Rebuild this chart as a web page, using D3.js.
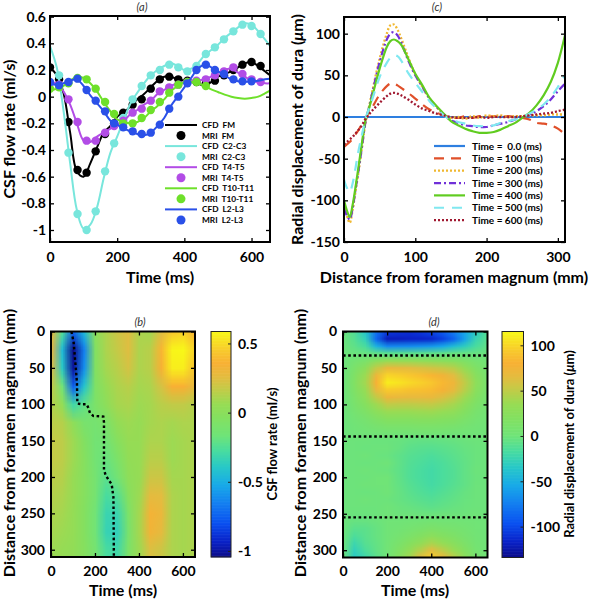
<!DOCTYPE html>
<html><head><meta charset="utf-8">
<script src="https://cdn.jsdelivr.net/npm/d3@7"></script>
<style>
body{margin:0;background:#fff;}
svg text{font-family:Lato,"Open Sans",sans-serif;}
</style></head><body>
<svg id="chart" width="590" height="600" xmlns="http://www.w3.org/2000/svg"></svg>
<script>
// ---------------- DATA: panel (a) ----------------
const timeCFD = [0,20,40,60,80,100,120,140,160,180,200,220,240,260,280,300,320,340,360,380,400,420,440,460,480,500,520,540,560,580,600,620,640,655];
const cfdFM  = [0.22,0.16,0.03,-0.27,-0.56,-0.60,-0.50,-0.38,-0.27,-0.22,-0.15,-0.12,-0.07,-0.02,0.02,0.07,0.12,0.15,0.15,0.13,0.12,0.12,0.10,0.08,0.11,0.15,0.17,0.19,0.22,0.25,0.26,0.23,0.19,0.16];
const cfdC2  = [0.38,0.22,-0.10,-0.50,-0.85,-0.99,-0.96,-0.83,-0.61,-0.42,-0.30,-0.17,-0.05,0.03,0.10,0.16,0.20,0.23,0.25,0.23,0.20,0.21,0.25,0.31,0.35,0.39,0.44,0.48,0.52,0.55,0.54,0.49,0.43,0.38];
const cfdT4  = [0.10,0.10,0.04,-0.06,-0.20,-0.33,-0.34,-0.30,-0.27,-0.24,-0.21,-0.18,-0.13,-0.10,-0.06,-0.03,0.02,0.05,0.08,0.10,0.11,0.12,0.12,0.13,0.15,0.18,0.20,0.21,0.18,0.15,0.12,0.11,0.10,0.10];
const cfdT10 = [0.05,0.06,0.08,0.12,0.15,0.14,0.10,0.04,-0.04,-0.11,-0.17,-0.19,-0.20,-0.19,-0.16,-0.11,-0.07,-0.02,0.04,0.08,0.11,0.11,0.10,0.08,0.055,0.035,0.015,0.0,-0.01,-0.015,-0.01,0.0,0.025,0.045];
const cfdL2  = [0.10,0.09,0.10,0.12,0.13,0.08,0.01,-0.05,-0.11,-0.18,-0.21,-0.24,-0.26,-0.28,-0.29,-0.27,-0.22,-0.16,-0.07,0.00,0.07,0.14,0.21,0.24,0.22,0.19,0.16,0.13,0.115,0.11,0.115,0.12,0.13,0.135];
const timeMRI = [0,27,55,82,109,136,164,191,218,246,273,300,327,355,382,409,436,464,491,518,546,573,600,627,655];
const mriFM  = [0.22,0.13,-0.19,-0.55,-0.57,-0.41,-0.28,-0.20,-0.12,-0.06,-0.02,0.06,0.13,0.15,0.13,0.12,0.11,0.10,0.12,0.16,0.20,0.24,0.26,0.23,null];
const mriC2  = [null,0.16,-0.42,-0.88,-1.00,-0.86,-0.56,-0.35,-0.16,-0.02,0.08,0.16,0.20,0.24,0.22,0.19,0.23,0.32,0.37,0.43,0.49,0.54,0.53,0.47,null];
const mriT4  = [0.10,0.09,-0.02,-0.19,-0.33,-0.33,-0.27,-0.22,-0.18,-0.12,-0.09,-0.03,0.04,0.07,0.09,0.11,0.12,0.13,0.16,0.19,0.22,0.17,0.13,0.11,null];
const mriT10 = [0.06,0.07,0.10,0.14,0.13,0.06,-0.04,-0.13,-0.20,-0.20,-0.16,-0.10,-0.04,0.03,0.09,0.11,0.11,0.08,null,null,null,null,null,null,null];
const mriL2  = [0.11,0.085,0.11,0.135,0.05,-0.03,-0.11,-0.20,-0.23,-0.26,-0.28,-0.27,-0.21,-0.09,0.00,0.10,0.20,0.24,0.20,0.17,0.13,0.115,0.115,null,null];
const regions = ["FM","C2-C3","T4-T5","T10-T11","L2-L3"];
const flowTicks = [-1,-0.8,-0.6,-0.4,-0.2,0,0.2,0.4,0.6];
const flowTickLabels = ["-1","-0.8","-0.6","-0.4","-0.2","0","0.2","0.4","0.6"];
const timeTicks = [0,200,400,600];
const timeTickLabels = ["0","200","400","600"];

// ---------------- DATA: panel (c) ----------------
const distPos = [0,4,8,12,16,20,25,30,35,40,50,60,65,70,75,80,90,100,110,120,130,140,150,160,170,180,190,200,210,220,230,240,250,260,270,280,290,300,310];
const disp000 = [0,0,0,0,0,0,0,0,0,0,0,0,0,0,0,0,0,0,0,0,0,0,0,0,0,0,0,0,0,0,0,0,0,0,0,0,0,0,0];
const disp100 = [-36,-33,-30,-26,-21,-16,-9,-2,5,12,27,37,40,40,38,35,29,22,15,9,5,2,0,-1,1,-1,1,0,1,-1,1,0,-1,-3,-7,-8,-10,-14,-21];
const disp200 = [-105,-118,-127,-112,-90,-68,-38,-8,12,32,70,100,110,111,105,95,72,51,36,22,12,3,-1,0,-2,1,-1,2,1,2,0,1,1,2,2,2,3,3,3];
const disp300 = [-110,-118,-123,-110,-88,-66,-37,-7,11,30,66,93,100,102,98,90,68,50,36,22,12,3,-4,-7,-10,-11,-12,-12,-10,-8,-6,-3,0,3,7,13,21,31,40];
const disp400 = [-100,-112,-120,-106,-85,-62,-32,-4,10,26,58,84,91,93,91,87,70,52,38,23,13,4,-5,-10,-14,-17,-19,-19,-18,-15,-11,-7,-1,5,14,26,42,65,98];
const disp500 = [-75,-85,-90,-80,-62,-42,-22,-3,10,22,48,65,71,74,73,68,53,41,30,19,10,2,-3,-6,-8,-10,-11,-11,-10,-7,-5,-3,0,4,9,15,24,36,50];
const disp600 = [-33,-30,-27,-24,-20,-16,-10,-3,3,8,17,25,28,29,28,26,21,15,10,7,4,2,0,-1,-1,-1,0,-1,0,0,0,0,1,2,3,4,5,7,9];
const dispLabels = ["Time =  0.0 (ms)","Time = 100 (ms)","Time = 200 (ms)","Time = 300 (ms)","Time = 400 (ms)","Time = 500 (ms)","Time = 600 (ms)"];
const dispTicks = [-150,-100,-50,0,50,100];
const dispTickLabels = ["-150","-100","-50","0","50","100"];
const distTicks = [0,100,200,300];
const distTickLabels = ["0","100","200","300"];

// ---------------- DATA: panel (b) ----------------
const heatTimes = [0,50,100,150,200,250,300,350,400,450,500,550,600,650];
const flowPos = [0,25,50,75,100,125,150,175,200,225,250,275,300];
const flowGrid = [
  [0.30,-0.25,-0.75,-0.45, 0.00, 0.12, 0.20, 0.25, 0.12, 0.10, 0.25, 0.45, 0.48, 0.38],
  [0.32,-0.45,-1.04,-0.65,-0.04, 0.12, 0.18, 0.25, 0.12, 0.15, 0.38, 0.58, 0.59, 0.48],
  [0.26,-0.38,-1.00,-0.60,-0.04, 0.10, 0.15, 0.22, 0.12, 0.15, 0.35, 0.56, 0.56, 0.42],
  [0.18,-0.15,-0.75,-0.40,-0.06, 0.06, 0.12, 0.15, 0.10, 0.12, 0.22, 0.36, 0.36, 0.28],
  [0.14, 0.05,-0.30,-0.20,-0.08, 0.02, 0.10, 0.12, 0.08, 0.10, 0.15, 0.17, 0.17, 0.14],
  [0.16, 0.14, 0.02,-0.10,-0.12,-0.08, 0.04, 0.08, 0.06, 0.10, 0.12, 0.10, 0.12, 0.12],
  [0.18, 0.16, 0.08,-0.04,-0.14,-0.14,-0.02, 0.06, 0.06, 0.12, 0.12, 0.08, 0.10, 0.12],
  [0.18, 0.16, 0.08,-0.02,-0.14,-0.18,-0.08, 0.04, 0.06, 0.15, 0.15, 0.08, 0.10, 0.12],
  [0.16, 0.14, 0.06,-0.02,-0.12,-0.22,-0.14, 0.02, 0.06, 0.20, 0.20, 0.10, 0.10, 0.12],
  [0.14, 0.12, 0.06,-0.02,-0.12,-0.27,-0.24,-0.02, 0.08, 0.27, 0.26, 0.12, 0.10, 0.12],
  [0.12, 0.10, 0.05,-0.03,-0.15,-0.32,-0.32,-0.08, 0.10, 0.34, 0.30, 0.12, 0.10, 0.12],
  [0.10, 0.08, 0.05,-0.03,-0.15,-0.33,-0.35,-0.10, 0.10, 0.33, 0.27, 0.12, 0.10, 0.12],
  [0.08, 0.06, 0.04,-0.02,-0.12,-0.27,-0.30,-0.08, 0.08, 0.24, 0.20, 0.12, 0.10, 0.12]
];
const peakTime = [93,103,108,114,118,119,120,140,162,170,177,192,238,241,241,248,262,276,284,286];
const peakPos  = [0,15,33,55,70,85,99,100,100,105,112,116,117,125,190,197,204,210,228,310];
const flowRange = [-1.04, 0.59];
const flowBarTicks = [-1,-0.5,0,0.5];
const flowBarLabels = ["-1","-0.5","0","0.5"];
const posTicks = [0,50,100,150,200,250,300];
const posTickLabels = ["0","50","100","150","200","250","300"];

// ---------------- DATA: panel (d) ----------------
const dispPos = [0,10,20,30,40,50,60,70,80,90,100,110,120,130,140,150,160,170,180,190,200,210,220,230,240,250,260,270,280,290,300,310];
const dispGrid = [
  [0,-12,-36,-80,-105,-108,-110,-106,-100,-90,-75,-55,-33,-12],
  [0,-10,-28,-85,-120,-119,-117,-116,-114,-103,-87,-58,-25,-9],
  [0,-6,-16,-48,-70,-69,-68,-65,-62,-55,-42,-30,-16,-6],
  [0,-1,-2,-5,-8,-8,-7,-7,-6,-5,-3,-3,-3,-1],
  [0,6,12,25,34,33,32,30,28,25,22,15,8,3],
  [0,12,27,52,70,68,66,62,58,54,48,33,17,6],
  [0,16,37,72,100,97,93,89,84,76,65,45,25,9],
  [0,18,40,80,111,107,102,98,93,85,74,52,29,11],
  [0,16,35,68,95,93,90,89,87,79,68,48,26,10],
  [0,13,29,52,72,70,68,69,70,62,53,38,21,8],
  [0,10,22,38,51,50,50,51,52,47,41,28,15,6],
  [0,7,15,26,36,36,36,37,38,34,30,20,10,4],
  [0,4,9,16,22,22,22,23,23,21,19,13,7,3],
  [0,2,5,9,12,12,12,13,13,12,10,7,4,2],
  [0,1,2,3,3,3,3,4,4,3,2,2,2,1],
  [0,0,0,-1,-1,-2,-4,-5,-5,-4,-3,-1,0,0],
  [0,0,-1,0,0,-3,-7,-9,-10,-8,-6,-3,-1,0],
  [0,0,1,-1,-2,-6,-10,-12,-14,-11,-8,-4,-1,0],
  [0,0,-1,0,1,-5,-11,-14,-17,-14,-10,-5,-1,0],
  [0,0,1,0,-1,-6,-12,-16,-19,-15,-11,-5,0,0],
  [0,0,0,1,2,-5,-12,-16,-19,-15,-11,-5,-1,0],
  [0,0,1,1,1,-4,-10,-14,-18,-14,-10,-5,0,0],
  [0,0,-1,0,2,-3,-8,-12,-15,-11,-7,-3,0,0],
  [0,0,1,0,0,-3,-6,-9,-11,-8,-5,-2,0,0],
  [0,0,0,0,1,-1,-3,-5,-7,-5,-3,-1,0,0],
  [0,-1,-1,0,1,0,0,-1,-1,0,0,0,1,0],
  [0,-3,-3,-1,2,2,3,4,5,4,4,3,2,1],
  [0,-8,-7,-3,2,4,7,10,14,11,9,6,3,1],
  [0,-14,-8,-3,2,7,13,19,26,20,15,9,4,1],
  [0,-22,-10,-4,3,11,21,31,42,33,24,14,5,2],
  [0,-28,-14,-5,3,16,31,47,65,50,36,20,7,2],
  [0,-32,-21,-8,3,20,40,68,98,72,50,28,9,3]
];
const interfacePos = [33,144,255];
const dispRange = [-133.5, 115.8];
const dispBarTicks = [-100,-50,0,50,100];
const dispBarLabels = ["-100","-50","0","50","100"];

// ---------------- STYLES ----------------
const regionColors = ["#000000","#78e6dc","#b24ce6","#6ee02a","#2a50e8"];
const dispColors = ["#2e7fe0","#e0502a","#f0b830","#7030d8","#60cc20","#80e8f0","#a01830"];
const dispDash = [null,"10,7","2,2","7,3,2,3",null,"10,8","2,2"];
const cmapStops  = [0,0.07,0.15,0.24,0.32,0.40,0.47,0.54,0.62,0.68,0.74,0.80,0.86,0.92,1];
const cmapColors = ["#0c0c88","#0a22c8","#0a50f0","#1480f0","#18aae8","#28c8c8","#48dca0","#70e478","#84e060","#98dc54","#c0cc48","#e4bc40","#f8b034","#f8cc2c","#f8f818"];

const FONT = 'Lato, "Open Sans", sans-serif';
const svg = d3.select('#chart');

function frame(g, x, y, w, h, xt, xl, yt, yl, xpad, ypad) {
  g.append('g').attr('transform', `translate(0,${h})`)
    .call(d3.axisBottom(x).tickValues(xt).tickFormat((d,i)=>xl[i]).tickSizeInner(-4).tickSizeOuter(0).tickPadding(xpad));
  g.append('g').call(d3.axisTop(x).tickValues(xt).tickFormat('').tickSizeInner(-4).tickSizeOuter(0));
  g.append('g').call(d3.axisLeft(y).tickValues(yt).tickFormat((d,i)=>yl[i]).tickSizeInner(-4).tickSizeOuter(0).tickPadding(ypad));
  g.append('g').attr('transform', `translate(${w},0)`)
    .call(d3.axisRight(y).tickValues(yt).tickFormat('').tickSizeInner(-4).tickSizeOuter(0));
  g.selectAll('.domain').remove();
  g.selectAll('.tick line').attr('stroke', '#000').attr('stroke-width', 1.3);
  g.selectAll('.tick text').attr('font-family', FONT).attr('font-weight', 'bold').attr('font-size', 14).attr('fill', '#000');
  g.append('rect').attr('width', w).attr('height', h).attr('fill', 'none').attr('stroke', '#000').attr('stroke-width', 2);
}
function label(txt, x, y, size, rot, opts) {
  const t = svg.append('text').attr('x', x).attr('y', y).attr('text-anchor', 'middle')
    .attr('font-family', FONT).attr('font-size', size).attr('font-weight', (opts && opts.normal) ? 'normal' : 'bold')
    .attr('fill', (opts && opts.fill) || '#000');
  if (rot) t.attr('transform', `rotate(-90,${x},${y})`);
  if (opts && opts.italic) t.attr('font-style', 'italic');
  if (Array.isArray(txt)) {
    txt.forEach(p => { const s = t.append('tspan').text(p.t); if (p.i) s.attr('font-style', 'italic'); });
  } else t.text(txt);
  return t;
}
function makeCmap(lo, hi) {
  return d3.scaleLinear().domain(cmapStops.map(s => lo + s * (hi - lo))).range(cmapColors)
    .interpolate(d3.interpolateRgb).clamp(true);
}
function drawHeat(g, times, pos, grid, x, y, color, w, h, id) {
  const nx = times.length, ny = pos.length;
  const cv = document.createElement('canvas'); cv.width = nx; cv.height = ny;
  const ctx = cv.getContext('2d'); const im = ctx.createImageData(nx, ny);
  grid.forEach((row, j) => row.forEach((v, i) => {
    const c = d3.rgb(color(v)); const k = 4 * (j * nx + i);
    im.data[k] = c.r; im.data[k+1] = c.g; im.data[k+2] = c.b; im.data[k+3] = 255;
  }));
  ctx.putImageData(im, 0, 0);
  const dx = (x(times[nx-1]) - x(times[0])) / (nx - 1);
  const dy = (y(pos[ny-1]) - y(pos[0])) / (ny - 1);
  g.append('clipPath').attr('id', id).append('rect').attr('width', w).attr('height', h);
  g.append('g').attr('clip-path', `url(#${id})`).append('image')
    .attr('href', cv.toDataURL())
    .attr('x', x(times[0]) - dx / 2).attr('y', y(pos[0]) - dy / 2)
    .attr('width', dx * nx).attr('height', dy * ny)
    .attr('preserveAspectRatio', 'none');
}
function colorbar(x0, y0, w, h, range, color, ticks, labels) {
  const g = svg.append('g').attr('transform', `translate(${x0},${y0})`);
  const yb = d3.scaleLinear().domain(range).range([h, 0]);
  const n = 150, step = (range[1] - range[0]) / n;
  d3.range(n).forEach(k => {
    const v0 = range[0] + k * step;
    g.append('rect').attr('x', 0).attr('width', w)
      .attr('y', yb(v0 + step) - 0.3).attr('height', yb(v0) - yb(v0 + step) + 0.6)
      .attr('fill', color(v0 + step / 2));
  });
  g.append('rect').attr('width', w).attr('height', h).attr('fill', 'none').attr('stroke', '#222').attr('stroke-width', 1);
  ticks.forEach((t, i) => {
    g.append('line').attr('x1', w - 3).attr('x2', w).attr('y1', yb(t)).attr('y2', yb(t)).attr('stroke', '#222');
    g.append('text').attr('x', w + 7).attr('y', yb(t)).attr('dy', '0.35em')
      .attr('font-family', FONT).attr('font-weight', 'bold').attr('font-size', 14).text(labels[i]);
  });
}

// ================= Panel (a) =================
{
  const W = 220, Hh = 226;
  const g = svg.append('g').attr('transform', 'translate(50,16)');
  const x = d3.scaleLinear().domain([0, 655]).range([0, W]);
  const y = d3.scaleLinear().domain([-1.09, 0.605]).range([Hh, 0]);
  g.append('clipPath').attr('id', 'clipA').append('rect').attr('width', W).attr('height', Hh);
  const pg = g.append('g').attr('clip-path', 'url(#clipA)');
  const cfd = [cfdFM, cfdC2, cfdT4, cfdT10, cfdL2];
  const mri = [mriFM, mriC2, mriT4, mriT10, mriL2];
  const line = d3.line().x(d => x(d[0])).y(d => y(d[1])).curve(d3.curveCatmullRom);
  cfd.forEach((s, k) => {
    pg.append('path').attr('d', line(timeCFD.map((t, i) => [t, s[i]])))
      .attr('fill', 'none').attr('stroke', regionColors[k]).attr('stroke-width', 2);
    pg.selectAll(null).data(timeMRI.map((t, i) => [t, mri[k][i]]).filter(d => d[1] !== null))
      .enter().append('circle').attr('cx', d => x(d[0])).attr('cy', d => y(d[1])).attr('r', 4.2)
      .attr('fill', regionColors[k]);
  });
  frame(g, x, y, W, Hh, timeTicks, timeTickLabels, flowTicks, flowTickLabels, 10, 4);
  const lg = svg.append('g');
  regions.forEach((r, i) => {
    const yc = 125 + i * 2 * 10.55, ym = yc + 10.55;
    lg.append('line').attr('x1', 165).attr('x2', 197).attr('y1', yc).attr('y2', yc)
      .attr('stroke', regionColors[i]).attr('stroke-width', 2);
    lg.append('text').attr('x', 202).attr('y', yc + 3).attr('font-family', FONT).attr('font-weight', 'bold')
      .attr('font-size', 8.3).style('white-space', 'pre').text('CFD  ' + r);
    lg.append('circle').attr('cx', 181).attr('cy', ym).attr('r', 4.5).attr('fill', regionColors[i]);
    lg.append('text').attr('x', 202).attr('y', ym + 3).attr('font-family', FONT).attr('font-weight', 'bold')
      .attr('font-size', 8.3).style('white-space', 'pre').text('MRI  ' + r);
  });
  label('(a)', 142, 11, 11, false, {normal: true, italic: true, fill: '#333'});
  label('Time (ms)', 160, 283, 16, false);
  label('CSF flow rate (ml/s)', 15, 129, 16, true);
}

// ================= Panel (c) =================
{
  const W = 221, Hh = 225;
  const g = svg.append('g').attr('transform', 'translate(344,17)');
  const x = d3.scaleLinear().domain([0, 310]).range([0, W]);
  const y = d3.scaleLinear().domain([-150, 120]).range([Hh, 0]);
  g.append('clipPath').attr('id', 'clipC').append('rect').attr('width', W).attr('height', Hh);
  const pg = g.append('g').attr('clip-path', 'url(#clipC)');
  const series = [disp000, disp100, disp200, disp300, disp400, disp500, disp600];
  const line = d3.line().x(d => x(d[0])).y(d => y(d[1])).curve(d3.curveCatmullRom);
  series.forEach((s, k) => {
    const p = pg.append('path').attr('d', line(distPos.map((v, i) => [v, s[i]])))
      .attr('fill', 'none').attr('stroke', dispColors[k]).attr('stroke-width', k === 6 || k === 2 ? 2.3 : 2.2);
    if (dispDash[k]) p.attr('stroke-dasharray', dispDash[k]);
  });
  frame(g, x, y, W, Hh, distTicks, distTickLabels, dispTicks, dispTickLabels, 10, 4);
  const lg = svg.append('g');
  dispLabels.forEach((t, i) => {
    const yc = 146 + i * 12.35;
    const l = lg.append('line').attr('x1', 434).attr('x2', 465).attr('y1', yc).attr('y2', yc)
      .attr('stroke', dispColors[i]).attr('stroke-width', 2.2);
    if (dispDash[i]) l.attr('stroke-dasharray', dispDash[i]);
    lg.append('text').attr('x', 472).attr('y', yc + 3.5).attr('font-family', FONT).attr('font-weight', 'bold')
      .attr('font-size', 10).style('white-space', 'pre').text(t);
  });
  label('(c)', 437, 11, 11, false, {normal: true, italic: true, fill: '#333'});
  label('Distance from foramen magnum (mm)', 454, 283, 16, false);
  label([{t: 'Radial displacement of dura ('}, {t: 'μ', i: true}, {t: 'm)'}], 303, 129.5, 16, true);
}

// ================= Panel (b) =================
{
  const W = 144, Hh = 225.5;
  const g = svg.append('g').attr('transform', 'translate(51,331.5)');
  const x = d3.scaleLinear().domain([0, 655]).range([0, W]);
  const y = d3.scaleLinear().domain([0, 310]).range([0, Hh]);
  const color = makeCmap(flowRange[0], flowRange[1]);
  drawHeat(g, heatTimes, flowPos, flowGrid, x, y, color, W, Hh, 'clipB');
  g.append('path').attr('d', d3.line().x(d => x(d[0])).y(d => y(d[1]))(peakTime.map((t, i) => [t, peakPos[i]])))
    .attr('fill', 'none').attr('stroke', '#000').attr('stroke-width', 2.4).attr('stroke-dasharray', '2.6,2.6');
  frame(g, x, y, W, Hh, timeTicks, timeTickLabels, posTicks, posTickLabels, 9, 6);
  colorbar(211, 331.5, 20, 225.5, flowRange, color, flowBarTicks, flowBarLabels);
  label('(b)', 140, 326, 11, false, {normal: true, italic: true, fill: '#333'});
  label('Time (ms)', 123, 596, 16, false);
  label('Distance from foramen magnum (mm)', 15, 443, 16, true);
  label('CSF flow rate (ml/s)', 277, 444, 13, true);
}

// ================= Panel (d) =================
{
  const W = 144.5, Hh = 226;
  const g = svg.append('g').attr('transform', 'translate(343,331.5)');
  const x = d3.scaleLinear().domain([0, 655]).range([0, W]);
  const y = d3.scaleLinear().domain([0, 310]).range([0, Hh]);
  const color = makeCmap(dispRange[0], dispRange[1]);
  drawHeat(g, heatTimes, dispPos, dispGrid, x, y, color, W, Hh, 'clipD');
  interfacePos.forEach(p => {
    g.append('line').attr('x1', 0).attr('x2', W).attr('y1', y(p)).attr('y2', y(p))
      .attr('stroke', '#000').attr('stroke-width', 2.4).attr('stroke-dasharray', '2.6,2.6');
  });
  frame(g, x, y, W, Hh, timeTicks, timeTickLabels, posTicks, posTickLabels, 9, 6);
  colorbar(502, 331.5, 21.5, 226, dispRange, color, dispBarTicks, dispBarLabels);
  label('(d)', 434, 326, 11, false, {normal: true, italic: true, fill: '#333'});
  label('Time (ms)', 415, 596, 16, false);
  label('Distance from foramen magnum (mm)', 306, 443, 16, true);
  label([{t: 'Radial displacement of dura ('}, {t: 'μ', i: true}, {t: 'm)'}], 574, 444, 13, true);
}
</script>
</body></html>
